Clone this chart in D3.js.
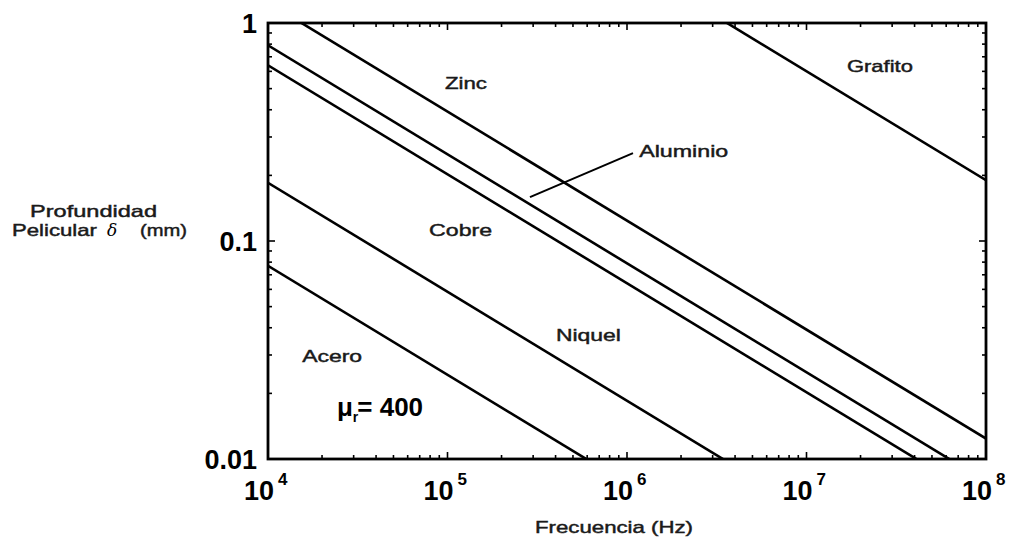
<!DOCTYPE html>
<html>
<head>
<meta charset="utf-8">
<script src="https://cdn.jsdelivr.net/npm/d3@7"></script>
<style>
  html, body { margin: 0; padding: 0; background: #fff; }
  svg { display: block; font-family: "Liberation Sans", Arial, sans-serif; }
</style>
</head>
<body>
<svg id="chart" width="1012" height="546"></svg>
<script>
// ---------- data ----------
const frequencies = [1e4, 1e8];                 // Hz (line end points)
const materials   = ["Zinc", "Aluminio", "Cobre", "Niquel", "Acero", "Grafito"];
const zincDepth     = [1.24, 0.0124];           // mm
const aluminioDepth = [0.79, 0.0079];
const cobreDepth    = [0.64, 0.0064];
const niquelDepth   = [0.185, 0.00185];
const aceroDepth    = [0.077, 0.00077];
const grafitoDepth  = [19, 0.19];
const xTickExponents = [4, 5, 6, 7, 8];
const yTickValues    = [1, 0.1, 0.01];
const yTickLabels    = ["1", "0.1", "0.01"];

// label anchors in data coordinates [f, delta]
const labelText = ["Zinc", "Grafito", "Aluminio", "Cobre", "Niquel", "Acero"];
const labelF    = [9.68e4, 1.68e7, 1.17e6, 7.9e4, 4.02e5, 1.55e4];
const labelD    = [0.498, 0.596, 0.243, 0.1054, 0.0348, 0.0279];
const labelW    = [42, 66, 89, 63, 65, 60];
const pointerF  = [2.88e5, 1.08e6];
const pointerD  = [0.159, 0.253];

// ---------- layout ----------
const svg = d3.select("#chart");
const x0 = 268, x1 = 986, y0 = 23, y1 = 459;
const x = d3.scaleLog().domain([1e4, 1e8]).range([x0, x1]);
const y = d3.scaleLog().domain([0.01, 1]).range([y1, y0]);

svg.append("defs").append("clipPath").attr("id", "clip")
  .append("rect").attr("x", x0).attr("y", y0).attr("width", x1 - x0).attr("height", y1 - y0);

// ---------- lines ----------
const series = [zincDepth, aluminioDepth, cobreDepth, niquelDepth, aceroDepth, grafitoDepth];
const line = d3.line().x(d => x(d[0])).y(d => y(d[1]));
svg.append("g").attr("clip-path", "url(#clip)")
  .selectAll("path").data(series).join("path")
  .attr("d", s => line(frequencies.map((f, i) => [f, s[i]])))
  .attr("fill", "none").attr("stroke", "#000").attr("stroke-width", 2.6);

// ---------- axes (ticks inward) ----------
const minorX = [];
for (let e = 4; e < 8; e++) for (let m = 1; m < 10; m++) minorX.push(m * Math.pow(10, e));
minorX.push(1e8);
const minorY = [];
for (let e = -2; e < 0; e++) for (let m = 1; m < 10; m++) minorY.push(m * Math.pow(10, e));
minorY.push(1);
const isMajor = v => Math.abs(Math.log10(v) - Math.round(Math.log10(v))) < 1e-9;

const gAxes = svg.append("g").attr("stroke", "#000");
gAxes.selectAll("line.xb").data(minorX).join("line")
  .attr("x1", d => x(d)).attr("x2", d => x(d))
  .attr("y1", y1).attr("y2", d => y1 - (isMajor(d) ? 7 : 4)).attr("stroke-width", 1.6);
gAxes.selectAll("line.xt").data(minorX).join("line")
  .attr("x1", d => x(d)).attr("x2", d => x(d))
  .attr("y1", y0).attr("y2", d => y0 + (isMajor(d) ? 7 : 4)).attr("stroke-width", 1.6);
gAxes.selectAll("line.yl").data(minorY).join("line")
  .attr("y1", d => y(d)).attr("y2", d => y(d))
  .attr("x1", x0).attr("x2", d => x0 + (isMajor(d) ? 7 : 4)).attr("stroke-width", 1.6);
gAxes.selectAll("line.yr").data(minorY).join("line")
  .attr("y1", d => y(d)).attr("y2", d => y(d))
  .attr("x1", x1).attr("x2", d => x1 - (isMajor(d) ? 7 : 4)).attr("stroke-width", 1.6);

svg.append("rect").attr("x", x0).attr("y", y0).attr("width", x1 - x0).attr("height", y1 - y0)
  .attr("fill", "none").attr("stroke", "#000").attr("stroke-width", 2.8);

// x tick labels 10^n
const xl = svg.append("g").selectAll("text").data(xTickExponents).join("text")
  .attr("x", e => x(Math.pow(10, e)) - 24).attr("y", 500)
  .attr("font-size", 27).attr("font-weight", "bold").attr("fill", "#000");
xl.append("tspan").text("10");
xl.append("tspan").attr("dx", 4).attr("dy", -15).attr("font-size", 17).text(e => e);

// y tick labels
svg.append("g").selectAll("text").data(yTickValues).join("text")
  .attr("x", 257).attr("y", d => y(d)).attr("dy", "0.36em")
  .attr("text-anchor", "end").attr("font-size", 27).attr("font-weight", "bold")
  .text((d, i) => yTickLabels[i]);

// axis titles (slightly heavy, like the scanned original)
const heavy = sel => sel.attr("fill", "#1a1a1a").attr("stroke", "#1a1a1a").attr("stroke-width", 0.45);
heavy(svg.append("text").attr("x", 535).attr("y", 533).attr("font-size", 17)
  .attr("textLength", 158).attr("lengthAdjust", "spacingAndGlyphs").text("Frecuencia (Hz)"));
heavy(svg.append("text").attr("x", 30).attr("y", 217).attr("font-size", 17)
  .attr("textLength", 127).attr("lengthAdjust", "spacingAndGlyphs").text("Profundidad"));
heavy(svg.append("text").attr("x", 12).attr("y", 236).attr("font-size", 17)
  .attr("textLength", 85).attr("lengthAdjust", "spacingAndGlyphs").text("Pelicular"));
svg.append("text").attr("x", 107).attr("y", 236).attr("font-size", 17)
  .attr("font-family", "'DejaVu Serif', 'Liberation Serif', serif").attr("font-style", "italic").text("δ");
heavy(svg.append("text").attr("x", 140).attr("y", 236).attr("font-size", 17)
  .attr("textLength", 47).attr("lengthAdjust", "spacingAndGlyphs").text("(mm)"));

// ---------- material labels ----------
heavy(svg.append("g").selectAll("text").data(labelText).join("text")
  .attr("x", (d, i) => x(labelF[i])).attr("y", (d, i) => y(labelD[i]))
  .attr("font-size", 17)
  .attr("textLength", (d, i) => labelW[i]).attr("lengthAdjust", "spacingAndGlyphs")
  .text(d => d));

// Aluminio pointer
svg.append("path")
  .attr("d", line(pointerF.map((f, i) => [f, pointerD[i]])))
  .attr("stroke", "#000").attr("stroke-width", 2).attr("fill", "none");

// mu_r = 400
const mu = svg.append("text").attr("x", x(2.42e4)).attr("y", y(0.0157))
  .attr("font-size", 26).attr("font-weight", "bold").attr("fill", "#000");
mu.append("tspan").text("μ");
mu.append("tspan").attr("dy", 6).attr("font-size", 14).text("r");
mu.append("tspan").attr("dy", -6).attr("dx", -1).text("= 400");
</script>
</body>
</html>
